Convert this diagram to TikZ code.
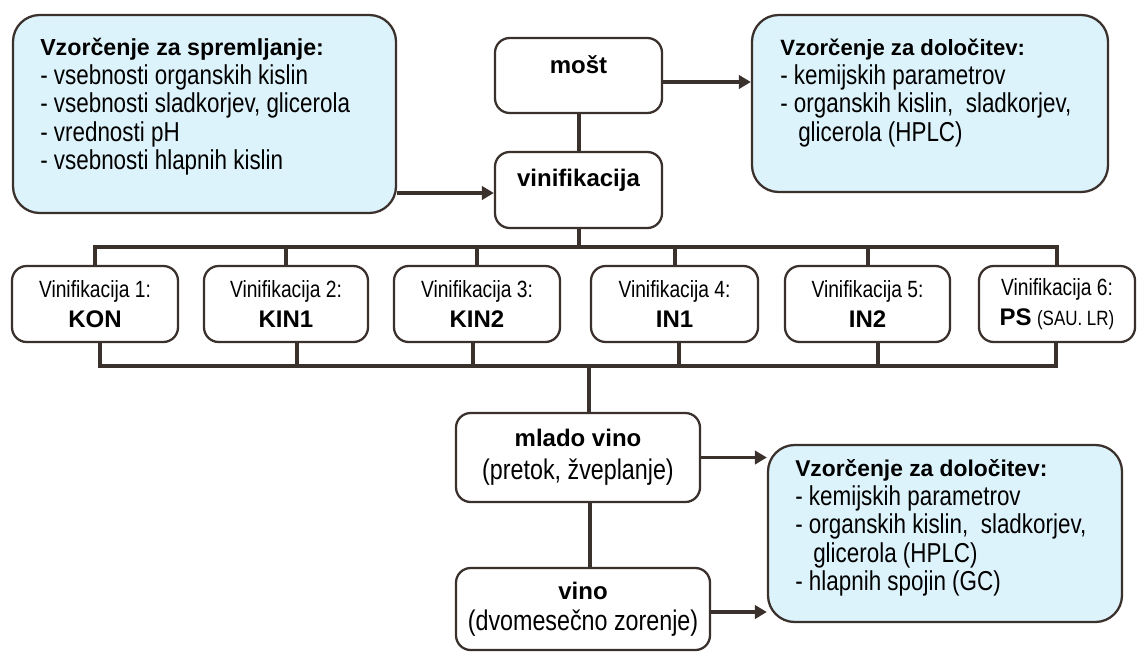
\documentclass[tikz,border=0pt]{standalone}
\usepackage{fontspec}
\setmainfont{Liberation Sans}
\newfontfamily\narrowfont{Liberation Sans}[FakeStretch=0.82]
\usetikzlibrary{arrows.meta,calc}
\definecolor{ink}{HTML}{3A302C}
\definecolor{sky}{HTML}{DDF3FB}

\tikzset{
  sizexy/.style 2 args={minimum width=#1*0.75pt, minimum height=#2*0.75pt},
  pbox/.style={draw=ink, line width=1.7pt, rounded corners=11pt, fill=white,
    inner sep=0pt, align=center},
  sbox/.style={draw=ink, line width=1.7pt, rounded corners=20pt, fill=sky, inner sep=0pt},
  conn/.style={draw=ink, line width=3pt, line join=miter},
  arr/.style={draw=ink, line width=2.7pt, -{Triangle[length=9pt,width=10pt]}},
  bodytxt/.style={inner sep=0pt, align=left,
    font=\narrowfont\fontsize{20.5pt}{21.4pt}\selectfont},
  boldtxt/.style={inner sep=0pt, font=\bfseries\fontsize{18pt}{22pt}\selectfont},
  rowtxt/.style={font=\narrowfont\fontsize{17.6pt}{23pt}\selectfont},
}
\newcommand\headline[2][17pt]{{\normalfont\bfseries\fontsize{#1}{21.4pt}\selectfont #2}}
\newcommand\tag[1]{{\normalfont\bfseries\fontsize{18pt}{22pt}\selectfont #1}}

\begin{document}
\begin{tikzpicture}[x=0.75pt,y=-0.75pt]
\useasboundingbox (0,0) rectangle (1137,653);

% sampling boxes
\node[sbox, sizexy={383}{198}] (spr) at (204.5,114) {};
\node[bodytxt, anchor=west] (sprT) at (40,107)
  {\headline[17.4pt]{Vzorčenje za spremljanje:}\\
   - vsebnosti organskih kislin\\
   - vsebnosti sladkorjev, glicerola\\
   - vrednosti pH\\
   - vsebnosti hlapnih kislin};

\node[sbox, sizexy={356}{177}] (det1) at (930,103.5) {};
\node[bodytxt, anchor=west] (det1T) at (780,93)
  {\headline[16.6pt]{Vzorčenje za določitev:}\\
   - kemijskih parametrov\\
   - organskih kislin,\ \ sladkorjev,\\
   \hspace*{13.5pt}glicerola (HPLC)};

\node[sbox, sizexy={354}{177}] (det2) at (945,533.5) {};
\node[bodytxt, anchor=west] (det2T) at (795,528)
  {\headline[17.1pt]{Vzorčenje za določitev:}\\
   - kemijskih parametrov\\
   - organskih kislin,\ \ sladkorjev,\\
   \hspace*{13.5pt}glicerola (HPLC)\\
   - hlapnih spojin (GC)};

% main process boxes
\node[pbox, sizexy={167}{75}] (most) at (578.5,75.5) {};
\node[boldtxt] (mostT) at (578.5,65) {mošt};
\node[pbox, sizexy={167}{76}] (vin) at (578.5,190) {};
\node[boldtxt] (vinT) at (578.5,180) {vinifikacija};

% the six vinifications
\node[pbox, rowtxt, sizexy={166}{76}] (b1) at (95,304)
  {Vinifikacija 1:\\\tag{KON}};
\node[pbox, rowtxt, sizexy={164}{76}] (b2) at (286,304)
  {Vinifikacija 2:\\\tag{KIN1}};
\node[pbox, rowtxt, sizexy={166}{76}] (b3) at (477,304)
  {Vinifikacija 3:\\\tag{KIN2}};
\node[pbox, rowtxt, sizexy={167}{76}] (b4) at (674.5,304)
  {Vinifikacija 4:\\\tag{IN1}};
\node[pbox, rowtxt, sizexy={165}{76}] (b5) at (867.5,304)
  {Vinifikacija 5:\\\tag{IN2}};
\node[pbox, rowtxt, sizexy={156}{76}] (b6) at (1057,304)
  {Vinifikacija 6:\\\tag{PS} {\fontsize{15.5pt}{23pt}\selectfont(SAU. LR)}};

% wine stages
\node[pbox, sizexy={244}{89}, font=\narrowfont\fontsize{21.3pt}{25pt}\selectfont]
  (mlado) at (578,457.5) {\tag{mlado vino}\\(pretok, žveplanje)};
\node[pbox, sizexy={254}{82}, font=\narrowfont\fontsize{21.3pt}{23pt}\selectfont]
  (vino) at (583,609) {\tag{vino}\\(dvomesečno zorenje)};

% bus lines
\coordinate (busT) at (0,247);
\coordinate (busB) at (0,366);
\draw[conn] (most.south) -- (vin.north);
\draw[conn] (vin.south) -- (vin.south |- busT);
\draw[conn] (b1.north) -- (b1.north |- busT) -- (b6.north |- busT) -- (b6.north);
\foreach \b in {b2,b3,b4,b5}
  \draw[conn] (\b.north) -- (\b.north |- busT);

\coordinate (k1) at ($(b1.south)+(5,0)$);
\coordinate (k2) at ($(b2.south)+(11,0)$);
\coordinate (k3) at ($(b3.south)+(-4,0)$);
\coordinate (k4) at ($(b4.south)+(4,0)$);
\coordinate (k5) at ($(b5.south)+(10,0)$);
\coordinate (k6) at ($(b6.south)+(-1,0)$);
\draw[conn] (k1) -- (k1 |- busB) -- (k6 |- busB) -- (k6);
\foreach \k in {k2,k3,k4,k5}
  \draw[conn] (\k) -- (\k |- busB);

\coordinate (m1) at ($(mlado.north)+(11,0)$);
\draw[conn] (m1 |- busB) -- (m1);
\coordinate (m2) at ($(mlado.south)+(12,0)$);
\draw[conn] (m2) -- (m2 |- vino.north);

% sampling arrows
\coordinate (a1) at (0,193);
\coordinate (a2) at (0,82);
\coordinate (a4) at (0,612);
\draw[arr] (spr.east |- a1) -- (vin.west |- a1);
\draw[arr] (most.east |- a2) -- (det1.west |- a2);
\draw[arr] (mlado.east) -- (det2.west |- mlado.east);
\draw[arr] (vino.east |- a4) -- (det2.west |- a4);
\end{tikzpicture}
\end{document}
